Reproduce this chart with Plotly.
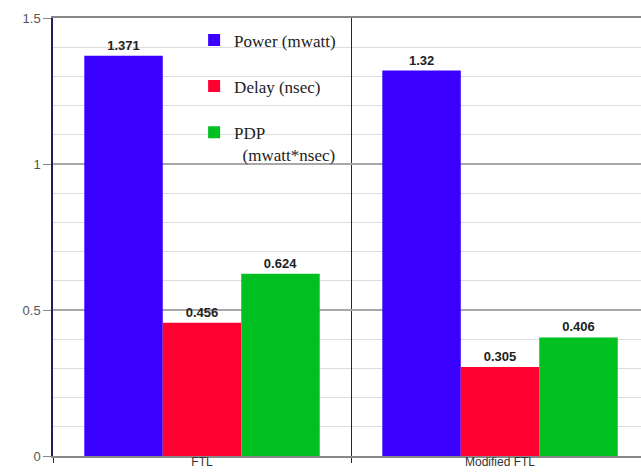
import plotly.graph_objects as go

categories = ["FTL", "Modified FTL"]
power = [1.371, 1.32]
delay = [0.456, 0.305]
pdp = [0.624, 0.406]

series_names = ["Power (mwatt)", "Delay (nsec)", "PDP<br>  (mwatt*nsec)"]
series_values = [power, delay, pdp]
series_colors = ["#3a00ff", "#ff0030", "#00bf20"]

y_ticks = [0, 0.5, 1, 1.5]
y_tick_text = ["0", "0.5", "1", "1.5"]

fig = go.Figure()
for i, (name, vals, col) in enumerate(zip(series_names, series_values, series_colors)):
    fig.add_trace(go.Bar(
        x=categories, y=vals, name=name, marker=dict(color=col, line=dict(width=0)),
        texttemplate="<b>%{y}</b>", textposition="outside", cliponaxis=False,
        textfont=dict(family="Liberation Sans", size=13, color="#222222"),
        legendgroup=f"g{i}",
    ))

fig.update_layout(
    width=641, height=473,
    margin=dict(l=53, r=0, t=18, b=17, autoexpand=False),
    paper_bgcolor="white", plot_bgcolor="white",
    barmode="group", bargap=0.21, bargroupgap=0,
    legend=dict(
        x=0.24, y=0.99, xanchor="left", yanchor="top",
        bgcolor="rgba(0,0,0,0)", borderwidth=0,
        font=dict(family="Liberation Serif", size=17, color="#222222"),
        traceorder="grouped", tracegroupgap=21, valign="top",
    ),
    xaxis=dict(
        range=[-0.5, 1.473], showline=True, mirror=True, linecolor="#888888", linewidth=1.5,
        showgrid=True, gridcolor="#202060", gridwidth=1,
        tickson="boundaries", ticks="outside", ticklen=5, tickcolor="#202060",
        tickfont=dict(family="Liberation Sans", size=12, color="#333333"),
        ticklabelstandoff=-6,
        zeroline=False, automargin=False,
    ),
    yaxis=dict(
        range=[0, 1.5], tickvals=y_ticks, ticktext=y_tick_text,
        showline=True, linecolor="#202060", linewidth=1.5,
        ticks="outside", ticklen=8, tickcolor="#888888",
        showgrid=True, gridcolor="#a8a8a8", gridwidth=2,
        minor=dict(dtick=0.1, showgrid=True, gridcolor="#dddddd", gridwidth=1),
        tickfont=dict(family="Liberation Sans", size=13, color="#555555"),
        zeroline=False, automargin=False,
    ),
)

fig.write_html("out.html")
